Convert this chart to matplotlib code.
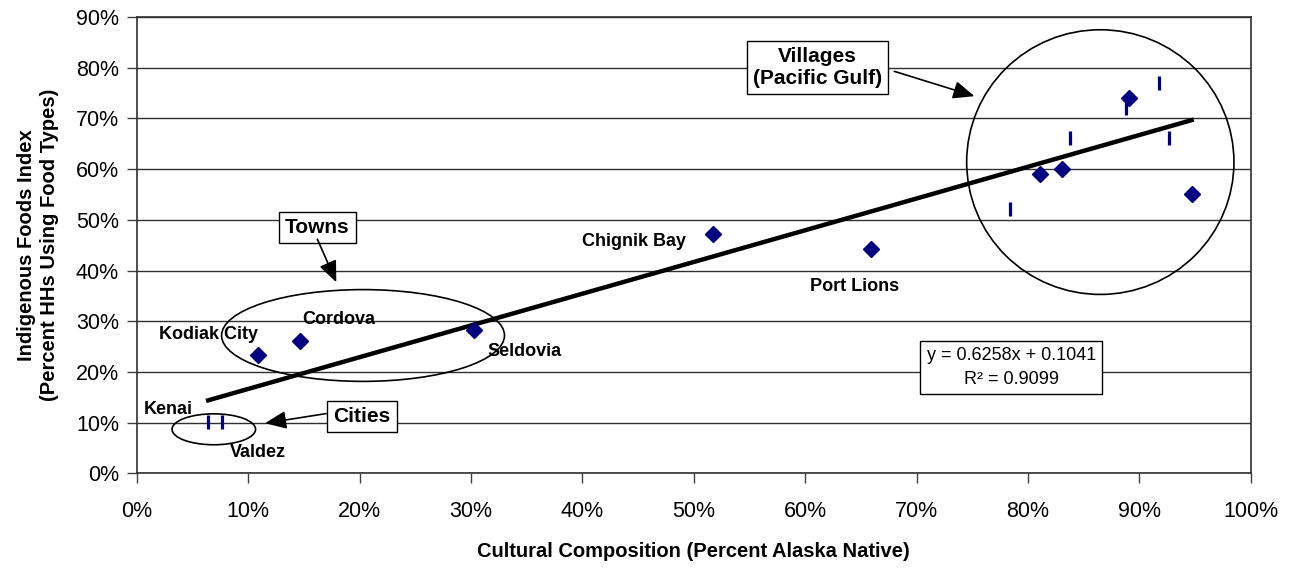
import numpy as np
import matplotlib.pyplot as plt
from matplotlib.patches import Ellipse
from matplotlib.ticker import PercentFormatter

plt.rcParams['font.family'] = ['Liberation Sans', 'DejaVu Sans']

# Communities (diamonds) - percent Alaska Native vs indigenous foods index
diam_x = [0.109, 0.146, 0.303, 0.517, 0.659, 0.811, 0.831, 0.891, 0.947]
diam_y = [0.234, 0.262, 0.282, 0.473, 0.443, 0.591, 0.601, 0.740, 0.551]

# Second set of communities (dash markers)
dash_x = [0.064, 0.076, 0.784, 0.838, 0.888, 0.918, 0.927]
dash_y = [0.102, 0.102, 0.522, 0.662, 0.721, 0.770, 0.662]

# Linear trend
slope = 0.6258
intercept = 0.1041
r2 = 0.9099

# Community names and where they sit (percent units)
names = ['Kodiak City', 'Cordova', 'Seldovia', 'Chignik Bay', 'Port Lions', 'Kenai', 'Valdez']
name_x = [6.4, 18.1, 34.8, 44.6, 64.4, 2.8, 10.9]
name_y = [27.4, 30.4, 24.1, 45.8, 36.9, 12.6, 4.1]

fig = plt.figure(figsize=(12.92, 5.69), dpi=100)
ax = fig.add_axes([0.106, 0.168, 0.862, 0.802])

dx = np.array(diam_x) * 100
dy = np.array(diam_y) * 100
sx = np.array(dash_x) * 100
sy = np.array(dash_y) * 100

ax.plot(dx, dy, 'D', color='#000080', markersize=8.5, zorder=4)
ax.plot(sx, sy, '|', color='#000080', markersize=9.5, markeredgewidth=2.3, zorder=4)

allx = np.concatenate([dx, sx])
lx = np.array([allx.min(), allx.max()])
ax.plot(lx, slope * lx + intercept * 100, color='black', lw=3.2, zorder=3)

ax.set_xlim(0, 100)
ax.set_ylim(0, 90)
ax.set_xticks(np.arange(0, 101, 10))
ax.set_yticks(np.arange(0, 91, 10))
ax.xaxis.set_major_formatter(PercentFormatter(decimals=0))
ax.yaxis.set_major_formatter(PercentFormatter(decimals=0))
ax.tick_params(axis='both', direction='out', length=7, width=1, color='#404040',
               labelsize=15.5, pad=6)
ax.tick_params(axis='x', pad=13)
ax.grid(axis='y', color='#303030', lw=1)
ax.set_axisbelow(True)
for s in ax.spines.values():
    s.set_color('#303030')
    s.set_linewidth(1.2)

ax.set_xlabel('Cultural Composition (Percent Alaska Native)', fontsize=14.5,
              fontweight='bold', labelpad=14)
ax.set_ylabel('Indigenous Foods Index\n(Percent HHs Using Food Types)', fontsize=14.5,
              fontweight='bold', labelpad=12, linespacing=1.3)

for n, x, y in zip(names, name_x, name_y):
    ax.text(x, y, n, fontsize=13, fontweight='bold', ha='center', va='center', zorder=5)

# group outlines
ax.add_patch(Ellipse((86.5, 61.4), 24.0, 52.2, fill=False, ec='black', lw=1.2, zorder=3))
ax.add_patch(Ellipse((20.3, 27.2), 25.4, 18.1, fill=False, ec='black', lw=1.2, zorder=3))
ax.add_patch(Ellipse((6.9, 8.7), 7.5, 6.1, fill=False, ec='black', lw=1.2, zorder=3))

box = dict(boxstyle='square,pad=0.3', fc='white', ec='black', lw=1)
arrow = dict(arrowstyle='-|>,head_length=1.3,head_width=0.55', color='black', lw=1.2,
             shrinkA=0, shrinkB=0)

ax.text(61.1, 80.1, 'Villages\n(Pacific Gulf)', fontsize=15, fontweight='bold',
        ha='center', va='center', bbox=box, zorder=6, linespacing=1.2)
ax.annotate('', xy=(75.2, 74.4), xytext=(68.0, 79.3), arrowprops=arrow, zorder=6)

ax.text(16.2, 48.5, 'Towns', fontsize=15, fontweight='bold',
        ha='center', va='center', bbox=box, zorder=6)
ax.annotate('', xy=(17.9, 37.7), xytext=(16.2, 46.2), arrowprops=arrow, zorder=6)

ax.text(20.2, 11.2, 'Cities', fontsize=15, fontweight='bold',
        ha='center', va='center', bbox=box, zorder=6)
ax.annotate('', xy=(11.5, 9.9), xytext=(17.0, 11.8), arrowprops=arrow, zorder=6)

ax.text(78.5, 20.9, 'y = %.4fx + %.4f\nR\u00b2 = %.4f' % (slope, intercept, r2),
        fontsize=13, ha='center', va='center', linespacing=1.55, zorder=6,
        bbox=dict(boxstyle='square,pad=0.35', fc='white', ec='black', lw=1))

fig.savefig('out.png', dpi=100)
